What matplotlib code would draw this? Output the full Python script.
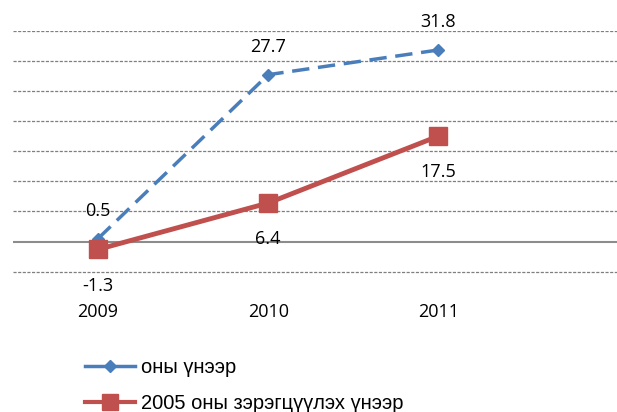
import matplotlib.pyplot as plt
from matplotlib.lines import Line2D

# data
years = ['2009', '2010', '2011']
current_prices = [0.5, 27.7, 31.8]      # оны үнээр
constant_prices = [-1.3, 6.4, 17.5]     # 2005 оны зэрэгцүүлэх үнээр
labels = ['оны үнээр', '2005 оны зэрэгцүүлэх үнээр']

blue = '#4A7EBB'
red = '#C0504D'

fig = plt.figure(figsize=(6.17, 4.12), dpi=100)
ax = fig.add_axes([13 / 617, 1 - 275 / 412, 604 / 617, (275 - 30.7) / 412])

x = range(len(years))
ax.plot(x, current_prices, color=blue, lw=2.5, ls=(0, (5, 2.5)),
        marker='D', ms=6, mfc=blue, mec=blue, zorder=4)
ax.plot(x, constant_prices, color=red, lw=3.5, marker='s', ms=13,
        mfc=red, mec=red, zorder=5)

# gridlines
for v in range(-5, 40, 5):
    if v == 0:
        ax.axhline(v, color='#8c8c8c', lw=1.5, zorder=2)
    else:
        ax.axhline(v, color='#7f7f7f', lw=0.9, ls=(0, (2.5, 1.2)), zorder=1)

ax.set_xlim(-0.5, 3.05)
ax.set_ylim(-5.55, 35)

for i, v in enumerate(current_prices):
    ax.annotate(f'{v}', (i, v), xytext=(0, 20), textcoords='offset points',
                ha='center', va='center', fontsize=13, family='Open Sans')
for i, v in enumerate(constant_prices):
    ax.annotate(f'{v}', (i, v), xytext=(0, -26), textcoords='offset points',
                ha='center', va='center', fontsize=13, family='Open Sans')

for s in ax.spines.values():
    s.set_visible(False)
ax.set_yticks([])
ax.set_xticks(list(x))
ax.set_xticklabels(years, fontsize=13, family='Open Sans')
ax.tick_params(axis='x', length=0, pad=20)

h1 = Line2D([], [], color=blue, lw=2.5, marker='D', ms=6)
h2 = Line2D([], [], color=red, lw=3, marker='s', ms=11)
fig.legend([h1, h2], labels, loc='upper left', bbox_to_anchor=(67 / 617, 1 - 340 / 412),
           frameon=False, prop={'family': 'Liberation Sans', 'size': 14.5},
           handlelength=2.5, handletextpad=0.25, labelspacing=0.85)

fig.savefig('out.png', dpi=100)
